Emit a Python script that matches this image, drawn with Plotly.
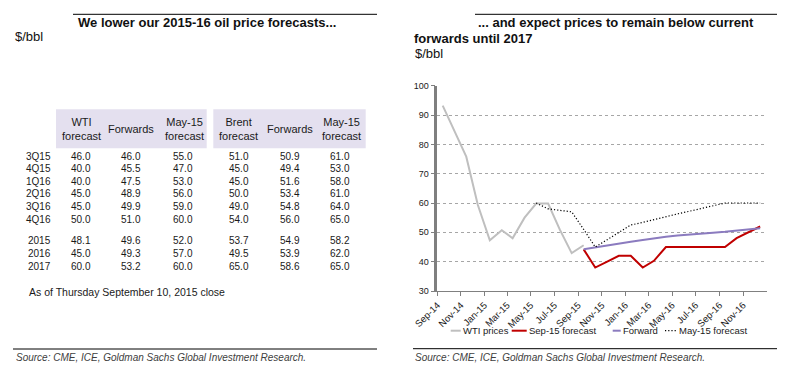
import plotly.graph_objects as go

W, H = 807, 379
FONT = "Liberation Sans, Arial, sans-serif"


def px(x):
    return x / W


def py(y):
    return 1 - y / H


# ---------------- Table data (left panel) ----------------
quarter_labels = ["3Q15", "4Q15", "1Q16", "2Q16", "3Q16", "4Q16"]
year_labels = ["2015", "2016", "2017"]
col_headers = ["WTI<br>forecast", "Forwards", "May-15<br>forecast",
               "Brent<br>forecast", "Forwards", "May-15<br>forecast"]

wti_forecast_q = [46.0, 40.0, 40.0, 45.0, 45.0, 50.0]
wti_forwards_q = [46.0, 45.5, 47.5, 48.9, 49.9, 51.0]
wti_may15_q = [55.0, 47.0, 53.0, 56.0, 59.0, 60.0]
brent_forecast_q = [51.0, 45.0, 45.0, 50.0, 49.0, 54.0]
brent_forwards_q = [50.9, 49.4, 51.6, 53.4, 54.8, 56.0]
brent_may15_q = [61.0, 53.0, 58.0, 61.0, 64.0, 65.0]

wti_forecast_y = [48.1, 45.0, 60.0]
wti_forwards_y = [49.6, 49.3, 53.2]
wti_may15_y = [52.0, 57.0, 60.0]
brent_forecast_y = [53.7, 49.5, 65.0]
brent_forwards_y = [54.9, 53.9, 58.6]
brent_may15_y = [58.2, 62.0, 65.0]

# ---------------- Chart data (right panel) ----------------
wti_months = ["2014-09-15", "2014-10-15", "2014-11-15", "2014-12-15", "2015-01-15",
              "2015-02-15", "2015-03-15", "2015-04-15", "2015-05-15", "2015-06-15",
              "2015-07-15", "2015-08-15", "2015-09-15"]
wti_prices = [93.2, 84.4, 75.8, 59.3, 47.3, 50.7, 48.0, 55.0, 59.8, 59.8, 51.0, 42.9, 45.6]

fc_months = ["2015-09-15", "2015-10-15", "2015-11-15", "2015-12-15", "2016-01-15",
             "2016-02-15", "2016-03-15", "2016-04-15", "2016-05-15", "2016-06-15",
             "2016-07-15", "2016-08-15", "2016-09-15", "2016-10-15", "2016-11-15",
             "2016-12-15"]
sep15_forecast = [44.2, 38.0, 40.0, 42.0, 42.0, 38.0, 40.3, 45.0, 45.0, 45.0,
                  45.0, 45.0, 45.0, 48.0, 50.0, 52.0]
forward_curve = [44.2, 44.9, 45.5, 46.1, 46.8, 47.4, 48.0, 48.5, 48.9, 49.3,
                 49.6, 49.9, 50.2, 50.6, 51.0, 51.4]

may_months = ["2015-05-15", "2015-06-15", "2015-07-15", "2015-08-15"] + fc_months
may15_forecast = [60.0, 58.0, 57.5, 57.0, 51.0, 45.0, 47.5, 50.0, 52.5, 53.4,
                  54.4, 55.3, 56.3, 57.2, 58.1, 59.1, 60.0, 60.0, 60.0, 60.0]

tick_dates = ["2014-09-01", "2014-11-01", "2015-01-01", "2015-03-01", "2015-05-01",
              "2015-07-01", "2015-09-01", "2015-11-01", "2016-01-01", "2016-03-01",
              "2016-05-01", "2016-07-01", "2016-09-01", "2016-11-01"]
tick_labels = ["Sep-14", "Nov-14", "Jan-15", "Mar-15", "May-15", "Jul-15", "Sep-15",
               "Nov-15", "Jan-16", "Mar-16", "May-16", "Jul-16", "Sep-16", "Nov-16"]

series = [
    dict(name="WTI prices", x=wti_months, y=wti_prices, color="#bfbfbf", width=2, dash="solid"),
    dict(name="Sep-15 forecast", x=fc_months, y=sep15_forecast, color="#c00000", width=2, dash="solid"),
    dict(name="Forward", x=fc_months, y=forward_curve, color="#8b7bbf", width=2, dash="solid"),
    dict(name="May-15 forecast", x=may_months, y=may15_forecast, color="#000000", width=1.2,
         dash="1.2px,2px"),
]

fig = go.Figure()
for s in series:
    fig.add_trace(go.Scatter(x=s["x"], y=s["y"], mode="lines", name=s["name"],
                             line=dict(color=s["color"], width=s["width"], dash=s["dash"]),
                             showlegend=False))

annotations = []
shapes = []


def text(x, y, t, size=10, bold=False, italic=False, color="#1a1a1a", xanchor="left", align="left"):
    if bold:
        t = "<b>" + t + "</b>"
    if italic:
        t = "<i>" + t + "</i>"
    annotations.append(dict(x=px(x), y=py(y), xref="paper", yref="paper", text=t,
                            showarrow=False, xanchor=xanchor, yanchor="middle", align=align,
                            font=dict(family=FONT, size=size, color=color)))


def hline(x0, x1, y, color="#000000", width=1):
    shapes.append(dict(type="line", xref="paper", yref="paper", x0=px(x0), x1=px(x1),
                       y0=py(y), y1=py(y), line=dict(color=color, width=width)))


# ---------------- Left panel ----------------
hline(73, 377, 14.3)
text(76, 22.5, "We lower our 2015-16 oil price forecasts...", size=13, bold=True, color="#111111")
text(13, 36.7, "$/bbl", size=13, color="#111111")

# header backgrounds
for (x0, x1) in [(56, 206.7), (213.3, 365.7)]:
    shapes.append(dict(type="rect", xref="paper", yref="paper", x0=px(x0), x1=px(x1),
                       y0=py(148.3), y1=py(109.3), fillcolor="#e4e0ef", line=dict(width=0),
                       layer="below"))

col_x = [80.5, 131.2, 183.0, 239.3, 290.0, 340.0]
head_x = [81.5, 131.3, 184.5, 239.0, 289.5, 341.3]
for hx, h in zip(head_x, col_headers):
    text(hx, 129.3, h, size=11, xanchor="center", align="center", color="#1a1a1a")

q_cols = [wti_forecast_q, wti_forwards_q, wti_may15_q, brent_forecast_q, brent_forwards_q, brent_may15_q]
y_cols = [wti_forecast_y, wti_forwards_y, wti_may15_y, brent_forecast_y, brent_forwards_y, brent_may15_y]
q_rows_y = [156.3, 168.8, 181.3, 193.8, 206.5, 219.5]
y_rows_y = [240.0, 253.0, 266.0]

for i, lab in enumerate(quarter_labels):
    text(53, q_rows_y[i], lab, size=10, xanchor="right")
    for cx, col in zip(col_x, q_cols):
        text(cx, q_rows_y[i], f"{col[i]:.1f}", size=10, xanchor="center")
for i, lab in enumerate(year_labels):
    text(53, y_rows_y[i], lab, size=10, xanchor="right")
    for cx, col in zip(col_x, y_cols):
        text(cx, y_rows_y[i], f"{col[i]:.1f}", size=10, xanchor="center")

text(27, 291.7, "As of Thursday September 10, 2015 close", size=10.5)

hline(13, 377, 349)
text(14, 357, "Source: CME, ICE, Goldman Sachs Global Investment Research.", size=10,
     italic=True, color="#404040")

# ---------------- Right panel ----------------
hline(475, 777, 14.3)
text(476, 22.7, "... and expect prices to remain below current", size=13, bold=True, color="#111111")
text(412, 38.3, "forwards until 2017", size=13, bold=True, color="#111111")
text(412.5, 53.5, "$/bbl", size=13, color="#111111")

hline(413, 777, 348.7)
text(413, 357, "Source: CME, ICE, Goldman Sachs Global Investment Research.", size=10,
     italic=True, color="#404040")

# legend (manual, compact like the original)
legend_pos = [(450.7, 460.7), (511.7, 526.7), (612.7, 620.7), (665.0, 676.7)]
legend_y = 330.7
for s, (x0, x1) in zip(series, legend_pos):
    shapes.append(dict(type="line", xref="paper", yref="paper", x0=px(x0), x1=px(x1),
                       y0=py(legend_y), y1=py(legend_y),
                       line=dict(color=s["color"], width=s["width"], dash=s["dash"])))
    text(x1 + 0.5, legend_y, s["name"], size=9.5, color="#1a1a1a")

fig.update_layout(
    width=W, height=H,
    margin=dict(l=0, r=0, t=0, b=0, pad=0, autoexpand=False),
    paper_bgcolor="white", plot_bgcolor="white",
    font=dict(family=FONT, size=9, color="#1a1a1a"),
    showlegend=False,
    annotations=annotations,
    shapes=shapes,
    xaxis=dict(domain=[px(437.3), px(766.7)], type="date", automargin=False,
               range=["2014-09-01", "2017-01-01"],
               tickmode="array", tickvals=tick_dates, ticktext=tick_labels, tickangle=-45,
               ticks="outside", ticklen=4, tickcolor="#808080",
               showline=True, linecolor="#808080", linewidth=1,
               showgrid=False, zeroline=False,
               tickfont=dict(family=FONT, size=9.5, color="#1a1a1a")),
    yaxis=dict(domain=[py(291), py(85.7)], range=[30, 100], dtick=10, automargin=False,
               showgrid=True, gridcolor="#a6a6a6", griddash="dot", gridwidth=1,
               showline=True, linecolor="#7f7f7f", linewidth=2.5,
               ticks="outside", ticklen=4, tickcolor="#7f7f7f",
               zeroline=False,
               tickfont=dict(family=FONT, size=9, color="#1a1a1a")),
)

fig.write_html("out.html", config={"displayModeBar": False},
               post_script="document.body.style.margin='0px';document.body.style.overflow='hidden';")
